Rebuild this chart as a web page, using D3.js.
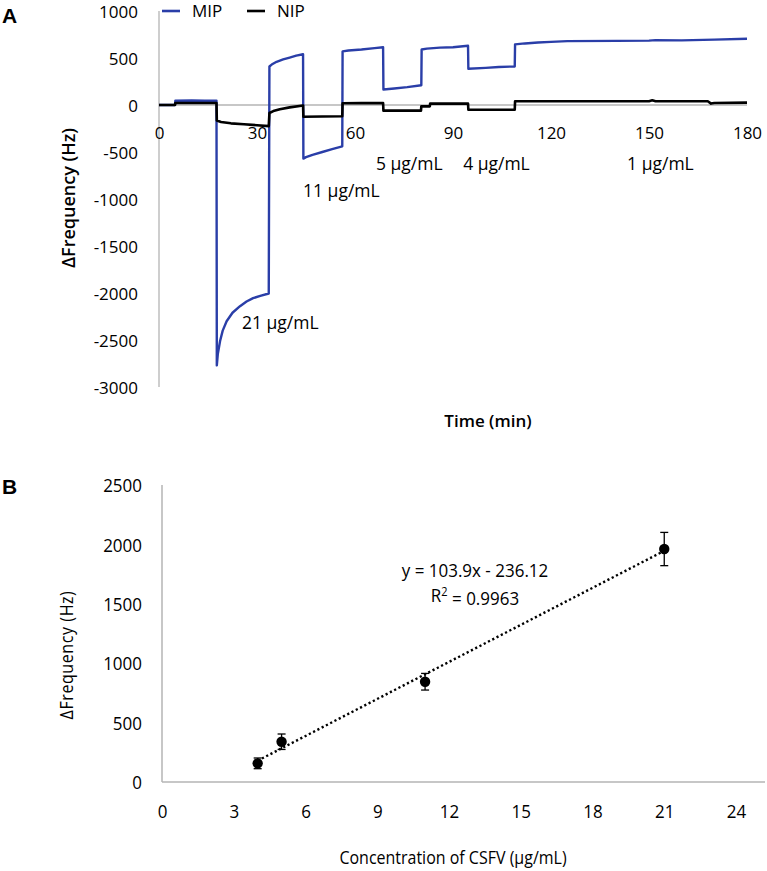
<!DOCTYPE html>
<html>
<head>
<meta charset="utf-8">
<script src="https://cdn.jsdelivr.net/npm/d3@7"></script>
<style>
  html, body { margin: 0; padding: 0; background: #fff; }
  svg text { font-family: "Open Sans", sans-serif; fill: #000; }
</style>
</head>
<body>
<svg id="chart" width="767" height="871"></svg>
<script>
// ---------- Panel A data: time (min) vs ΔFrequency (Hz) ----------
const mipTime = [0,4.9,5.0,10,14,17.6,17.7,18.0,18.7,19.5,20.7,22.5,24.8,26.8,28.8,31,33.6,
  33.8,34.5,36,38,40,42,44.1,44.2,45,47,50,53,56.1,56.2,58,62,66,68.6,68.7,72,76,80.3,
  80.4,82,86,90,94.6,94.7,100,104,108.9,109,112,116,120,125,140,150,152,160,170,180];
const mipValue = [0,0,45,48,45,45,-2770,-2650,-2510,-2400,-2300,-2210,-2140,-2090,-2055,-2030,-2005,
  410,430,460,485,505,525,540,-570,-555,-530,-500,-470,-440,570,580,590,605,615,165,175,190,210,
  590,600,610,615,630,385,395,405,410,645,655,665,672,680,682,685,690,688,695,705];

const nipTime = [0,4.9,5,17.6,17.7,19,22,26,30,33.6,33.8,35,37,40,44.1,44.2,50,56.1,56.2,62,68.6,
  68.7,80.2,80.3,82.9,83,94.6,94.7,108.9,109,150,151,152,168,169,170,180];
const nipValue = [0,0,22,22,-165,-180,-195,-205,-215,-225,-85,-65,-45,-25,-5,-125,-122,-120,18,20,22,
  -60,-60,-15,-15,15,15,-50,-50,40,40,50,40,40,15,22,25];

const xTicksA = [0,30,60,90,120,150,180];
const yTicksA = [1000,500,0,-500,-1000,-1500,-2000,-2500,-3000];
const seriesNames = ["MIP","NIP"];
const concLabels = ["21 µg/mL","11 µg/mL","5 µg/mL","4 µg/mL","1 µg/mL"];
const concLabelT = [25.4,44.1,66.4,93.1,143.3];
const concLabelV = [-2320,-915,-630,-630,-630];

// ---------- Panel B data: calibration ----------
const concentration = [4,5,11,21];
const deltaFreq = [157,339,844,1961];
const errorBar = [45,65,70,140];
const slope = 103.9, intercept = -236.12;
const xTicksB = [0,3,6,9,12,15,18,21,24];
const yTicksB = [0,500,1000,1500,2000,2500];

const svg = d3.select("#chart");
svg.append("rect").attr("width",767).attr("height",871).attr("fill","#fff");

const blue = "#2a3ea8";
const gray = "#b4b4b4";
const fmt = d => String(d);

// ================= Panel A =================
const xA = d3.scaleLinear().domain([0,180]).range([159,747]);
const yA = d3.scaleLinear().domain([-3000,1000]).range([387,11]);

svg.append("line").attr("x1",xA(0)).attr("x2",xA(180)).attr("y1",yA(0)).attr("y2",yA(0))
  .attr("stroke",gray).attr("stroke-width",1.3);
svg.append("line").attr("x1",xA(0)).attr("x2",xA(0)).attr("y1",yA(1000)).attr("y2",yA(-3000))
  .attr("stroke",gray).attr("stroke-width",1.3);

const axYA = svg.append("g").attr("transform",`translate(${xA(0)},0)`)
  .call(d3.axisLeft(yA).tickValues(yTicksA).tickSize(0).tickPadding(21).tickFormat(fmt));
axYA.select(".domain").remove();
axYA.selectAll("text").style("font-size","17px").attr("font-family","Open Sans").attr("dy","0.36em");

const axXA = svg.append("g").attr("transform",`translate(0,${yA(0)})`)
  .call(d3.axisBottom(xA).tickValues(xTicksA).tickSize(0).tickFormat(fmt));
axXA.select(".domain").remove();
axXA.selectAll("text").style("font-size","17px").attr("font-family","Open Sans").attr("y",28).attr("dy","0.35em");

const lineA = d3.line().x(d => xA(d[0])).y(d => yA(d[1]));
const mipData = mipTime.map((t,i) => [t, mipValue[i]]);
const nipData = nipTime.map((t,i) => [t, nipValue[i]]);

svg.append("path").datum(mipData).attr("d",lineA).attr("fill","none")
  .attr("stroke",blue).attr("stroke-width",2.4).attr("stroke-linejoin","round");
svg.append("path").datum(nipData).attr("d",lineA).attr("fill","none")
  .attr("stroke","#000").attr("stroke-width",2.6).attr("stroke-linejoin","round");

// legend
const legend = svg.append("g");
const legX = [162,247];
const legColors = [blue,"#000"];
seriesNames.forEach((name,i) => {
  legend.append("line").attr("x1",legX[i]).attr("x2",legX[i]+18).attr("y1",11).attr("y2",11)
    .attr("stroke",legColors[i]).attr("stroke-width",2.6);
  legend.append("text").attr("x",legX[i]+30).attr("y",11).attr("dy","0.35em")
    .style("font-size","17px").text(name);
});

// concentration annotations
concLabels.forEach((lab,i) => {
  svg.append("text").attr("x",xA(concLabelT[i])).attr("y",yA(concLabelV[i])).attr("dy","0.35em")
    .style("font-size","17.5px").text(lab);
});

// titles
svg.append("text").attr("transform","translate(75,198) rotate(-90)").attr("text-anchor","middle")
  .style("font-size","18px").style("font-weight","600").text("ΔFrequency (Hz)");
svg.append("text").attr("x",488).attr("y",421).attr("dy","0.35em").attr("text-anchor","middle")
  .style("font-size","17px").style("font-weight","600").text("Time (min)");
svg.append("text").attr("x",2).attr("y",23).style("font-family","Liberation Sans, Arial")
  .style("font-size","21px").style("font-weight","bold").text("A");

// ================= Panel B =================
const xB = d3.scaleLinear().domain([0,24]).range([162,736]);
const yB = d3.scaleLinear().domain([0,2500]).range([782,485]);
const sy = 1.12; // panel B text is slightly taller

svg.append("line").attr("x1",xB(0)).attr("x2",765).attr("y1",yB(0)).attr("y2",yB(0))
  .attr("stroke",gray).attr("stroke-width",1.5);
svg.append("line").attr("x1",xB(0)).attr("x2",xB(0)).attr("y1",yB(2500)).attr("y2",yB(0))
  .attr("stroke",gray).attr("stroke-width",1.5);

const axYB = svg.append("g").attr("transform",`translate(${xB(0)},0)`)
  .call(d3.axisLeft(yB).tickValues(yTicksB).tickSize(0).tickPadding(20).tickFormat(fmt));
axYB.select(".domain").remove();
axYB.selectAll("text").style("font-size","17px").attr("font-family","Open Sans")
  .attr("y",0).attr("dy","0.35em").attr("transform",`scale(1,${sy})`);

const axXB = svg.append("g").attr("transform",`translate(0,${yB(0)})`)
  .call(d3.axisBottom(xB).tickValues(xTicksB).tickSize(0).tickFormat(fmt));
axXB.select(".domain").remove();
axXB.selectAll("text").style("font-size","17px").attr("font-family","Open Sans")
  .attr("y",29/sy).attr("dy","0.35em").attr("transform",`scale(1,${sy})`);

// trendline (dotted)
const xMin = d3.min(concentration), xMax = d3.max(concentration);
svg.append("line")
  .attr("x1",xB(xMin)).attr("y1",yB(slope*xMin+intercept))
  .attr("x2",xB(xMax)).attr("y2",yB(slope*xMax+intercept))
  .attr("stroke","#000").attr("stroke-width",2.4).attr("stroke-dasharray","2.2,2.6");

// error bars
const pts = concentration.map((c,i) => ({x:c, y:deltaFreq[i], e:errorBar[i]}));
const eb = svg.append("g").attr("stroke","#000").attr("stroke-width",1.3);
pts.forEach(p => {
  eb.append("line").attr("x1",xB(p.x)).attr("x2",xB(p.x)).attr("y1",yB(p.y+p.e)).attr("y2",yB(p.y-p.e));
  eb.append("line").attr("x1",xB(p.x)-4).attr("x2",xB(p.x)+4).attr("y1",yB(p.y+p.e)).attr("y2",yB(p.y+p.e));
  eb.append("line").attr("x1",xB(p.x)-4).attr("x2",xB(p.x)+4).attr("y1",yB(p.y-p.e)).attr("y2",yB(p.y-p.e));
});
svg.append("g").selectAll("circle").data(pts).join("circle")
  .attr("cx",d => xB(d.x)).attr("cy",d => yB(d.y)).attr("r",5.2).attr("fill","#000");

// equation
const eqG = svg.append("g").attr("transform",`translate(475,570) scale(1,${sy})`);
eqG.append("text").attr("x",0).attr("y",0).attr("dy","0.35em").attr("text-anchor","middle")
  .style("font-size","17px").text("y = 103.9x - 236.12");
const r2G = svg.append("g").attr("transform",`translate(475,595) scale(1,${sy})`);
const r2 = r2G.append("text").attr("x",0).attr("y",0).attr("dy","0.35em").attr("text-anchor","middle")
  .style("font-size","17px");
r2.append("tspan").text("R");
r2.append("tspan").attr("dy","-0.45em").style("font-size","11px").text("2");
r2.append("tspan").attr("dy","0.45em").text(" = 0.9963");

svg.append("text").attr("transform","translate(73,655) rotate(-90) scale(1.0,1.1)").attr("text-anchor","middle")
  .style("font-size","16px").style("letter-spacing","0.6px").text("ΔFrequency (Hz)");
svg.append("text").attr("transform",`translate(453,858) scale(1,${sy})`).attr("dy","0.35em").attr("text-anchor","middle")
  .style("font-size","16px").text("Concentration of CSFV (µg/mL)");
svg.append("text").attr("x",2).attr("y",494).style("font-family","Liberation Sans, Arial")
  .style("font-size","21px").style("font-weight","bold").text("B");
</script>
</body>
</html>
